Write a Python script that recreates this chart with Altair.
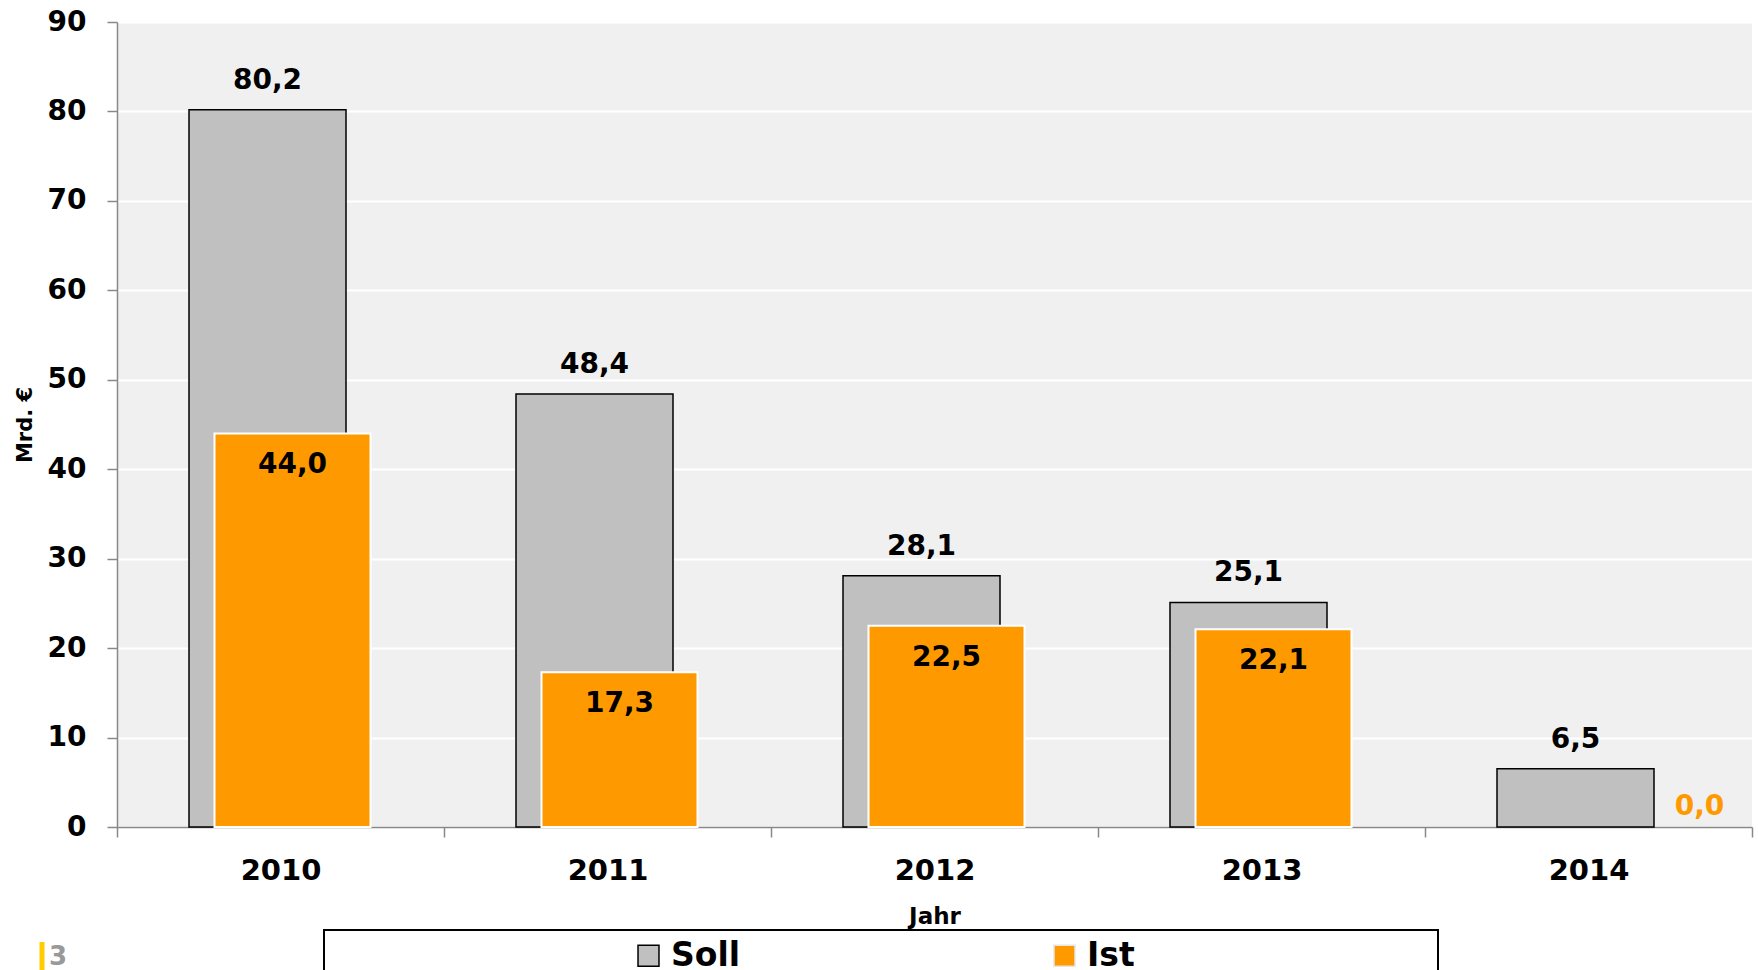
import altair as alt
import pandas as pd

# Data
years = ["2010", "2011", "2012", "2013", "2014"]
soll = [80.2, 48.4, 28.1, 25.1, 6.5]
ist = [44.0, 17.3, 22.5, 22.1, 0.0]
series = ["Soll", "Ist"]
colors = ["#C0C0C0", "#FF9900"]
strokes = ["#000000", "#E6E6E6"]
y_ticks = [0, 10, 20, 30, 40, 50, 60, 70, 80, 90]

FONT = "DejaVu Sans"

df = pd.DataFrame({"Jahr": years, "Soll": soll, "Ist": ist})

base = alt.Chart(df).transform_fold(
    ["Soll", "Ist"], as_=["Serie", "Wert"]
).transform_calculate(
    label="replace(format(datum.Wert, '.1f'), '.', ',')"
)

x = alt.X(
    "Jahr:N", sort=years, title="Jahr",
    scale=alt.Scale(paddingInner=0, paddingOuter=0),
    axis=alt.Axis(labelAngle=0, tickBand="extent", grid=False, labelPadding=19,
                  labelFontSize=29, titleFontSize=23, titlePadding=20, domainWidth=1.5),
)
y = alt.Y(
    "Wert:Q", title="Mrd. €",
    scale=alt.Scale(domain=[0, 90], nice=False),
    axis=alt.Axis(values=y_ticks, grid=True, labelPadding=21, titleFontSize=21,
                  titlePadding=12, domainWidth=1.5),
)
legend = alt.Legend(
    title=None, orient="none", legendX=515, legendY=917, direction="horizontal",
    symbolType="square", symbolSize=440, labelFontSize=33, labelFont=FONT,
    labelFontWeight="bold", labelColor="black", columnPadding=307, padding=0,
    labelOffset=6, symbolStrokeWidth=1.5,
)
color = alt.Color("Serie:N", scale=alt.Scale(domain=series, range=colors), legend=legend)
stroke = alt.Stroke("Serie:N", scale=alt.Scale(domain=series, range=strokes), legend=legend)

soll_bars = base.transform_filter("datum.Serie == 'Soll'").mark_bar(
    width=157, xOffset=-13, strokeWidth=1.5
).encode(x=x, y=y, color=color, stroke=stroke)

ist_bars = base.transform_filter("datum.Serie == 'Ist' && datum.Wert > 0").mark_bar(
    width=156, xOffset=12, strokeWidth=2
).encode(x=x, y=y, color=color, stroke=alt.value("white"))

soll_text = base.transform_filter("datum.Serie == 'Soll'").mark_text(
    xOffset=-13, dy=-29, baseline="middle", fontSize=28, fontWeight="bold", font=FONT, color="black"
).encode(x=x, y=y, text="label:N")

ist_text = base.transform_filter("datum.Serie == 'Ist' && datum.Wert > 0").mark_text(
    xOffset=12, dy=32, baseline="middle", fontSize=28, fontWeight="bold", font=FONT, color="black"
).encode(x=x, y=y, text="label:N")

ist_zero = base.transform_filter("datum.Serie == 'Ist' && datum.Wert == 0").mark_text(
    xOffset=111, dy=-20, baseline="middle", fontSize=28, fontWeight="bold", font=FONT, color="#FF9900"
).encode(x=x, y=y, text="label:N")

deco = alt.Chart(alt.Data(values=[{"k": 1}]))
legend_box = deco.mark_rect(fillOpacity=0, stroke="black", strokeWidth=2).encode(
    x=alt.value(207), x2=alt.value(1321), y=alt.value(908), y2=alt.value(1000)
)
page_bar = deco.mark_rule(color="#FFCC00", strokeWidth=5).encode(
    x=alt.value(-75), y=alt.value(920), y2=alt.value(960)
)
page_num = deco.mark_text(
    text="3", color="#999999", fontSize=26, fontWeight="bold", font=FONT, align="left", baseline="top"
).encode(x=alt.value(-68), y=alt.value(922))

chart = alt.layer(
    soll_bars, ist_bars, soll_text, ist_text, ist_zero, legend_box, page_bar, page_num
).properties(
    width=1635, height=805,
    padding={"left": 117, "top": 22, "right": 6, "bottom": 143},
    autosize=alt.AutoSizeParams(type="none"),
    background="white",
).configure_view(
    fill="#F0F0F0", strokeWidth=0
).configure_axis(
    labelFont=FONT, labelFontSize=28, labelFontWeight="bold", labelColor="black",
    titleFont=FONT, titleFontWeight="bold", titleColor="black",
    domainColor="#888888", tickColor="#888888", tickSize=10, tickWidth=1.5,
    gridColor="white", gridWidth=2,
)

chart.save("out.html", embed_options={"renderer": "svg", "actions": False})
